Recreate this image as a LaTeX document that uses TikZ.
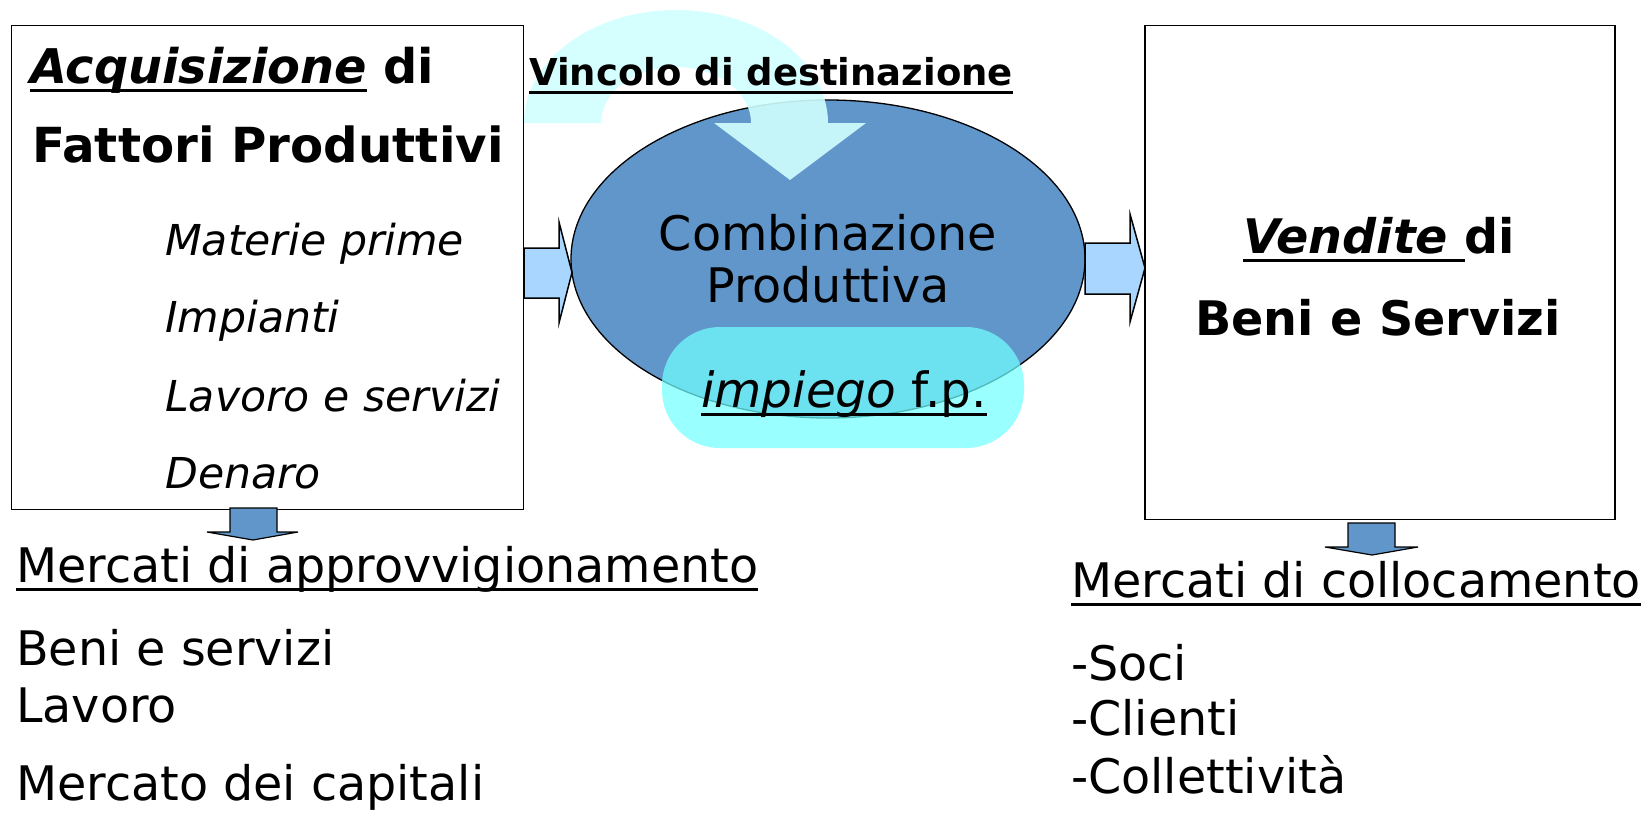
\documentclass[tikz,border=0pt]{standalone}
\usepackage{fontspec}
\setmainfont{DejaVu Sans}
\usetikzlibrary{shapes.geometric}
\newsavebox\ulbox
\newcommand\myul[1]{\sbox\ulbox{#1}\rlap{\vrule width\wd\ulbox height -5.5pt depth 8.5pt}\usebox\ulbox}
\definecolor{ellblue}{RGB}{96,150,201}
\definecolor{sideblue}{RGB}{168,214,255}
\definecolor{arccyan}{RGB}{208,255,255}
\definecolor{capcyan}{RGB}{113,255,255}
\tikzset{
  txt/.style={inner sep=0pt, anchor=base west},
  big/.style={font=\fontsize{47.6}{56}\selectfont},
  mid/.style={font=\fontsize{42.6}{52}\selectfont\itshape},
  boxline/.style={draw=black, line width=1.5pt},
  blockarrow/.style={draw=black, line width=1.5pt, line join=miter}
}
\begin{document}
\begin{tikzpicture}[x=1pt,y=-1pt]
\useasboundingbox (0,0) rectangle (1643,812);
% boxes
\node[boxline, fill=white, anchor=north west, minimum width=512pt, minimum height=484pt, inner sep=0pt] (lbox) at (10.5,24.5) {};
\node[boxline, fill=white, anchor=north west, minimum width=470pt, minimum height=494pt, inner sep=0pt] (rbox) at (1144,24.5) {};
% ellipse
\node[ellipse, draw=black, line width=1.3pt, fill=ellblue, minimum width=514pt, minimum height=318pt, inner sep=0pt] (comb) at (828,259) {};
% curved arrow
\fill[arccyan, opacity=0.9]
  plot[domain=180:0, samples=60] ({676+152*cos(\x)},{123-113*sin(\x)})
  -- (866,123) -- (790,180) -- (714,123) -- (751,123)
  -- plot[domain=0:180, samples=60] ({676+75*cos(\x)},{123-56*sin(\x)}) -- cycle;
% side arrows
\draw[blockarrow, fill=sideblue] (524,248) -- (559,248) -- (559,222) -- (572,272.5) -- (559,323) -- (559,298) -- (524,298) -- cycle;
\draw[blockarrow, fill=sideblue] (1085,243) -- (1130,243) -- (1130,214) -- (1145,268) -- (1130,322) -- (1130,294) -- (1085,294) -- cycle;
% down arrows
\draw[blockarrow, line width=1.2pt, fill=ellblue] (230,508) -- (277,508) -- (277,532) -- (298,532) -- (253,540) -- (207,532) -- (230,532) -- cycle;
\draw[blockarrow, line width=1.2pt, fill=ellblue] (1348,523) -- (1395,523) -- (1395,547) -- (1418,547) -- (1372,555) -- (1325,547) -- (1348,547) -- cycle;
% capsule
\node[rounded corners=58pt, fill=capcyan, fill opacity=0.72, minimum width=362pt, minimum height=121pt, inner sep=0pt] (capsule) at (843,387.5) {};
% texts
\node[txt, font=\fontsize{47.8}{56}\selectfont] (acq) at (30,83) {\myul{\textbf{\textit{Acquisizione}}}\textbf{ di}};
\node[txt, font=\fontsize{48.3}{56}\selectfont] (fat) at (32,162) {\textbf{Fattori Produttivi}};
\node[txt, mid] (mat) at (165,255) {Materie prime};
\node[txt, mid] (imp) at (165,332) {Impianti};
\node[txt, mid] (lav) at (165,411) {Lavoro e servizi};
\node[txt, mid] (den) at (165,488) {Denaro};
\node[txt, font=\fontsize{37}{44}\selectfont\bfseries] (vinc) at (529,85) {\myul{Vincolo di destinazione}};
\node[txt, big, anchor=base] (comb1) at (828,250) {Combinazione};
\node[txt, big, anchor=base] (comb2) at (828,302) {Produttiva};
\node[txt, font=\fontsize{48.5}{56}\selectfont, anchor=base] (impt) at (844,407) {\myul{\textit{impiego} f.p.}};
\node[txt, big, anchor=base] (vend) at (1379,253) {\textbf{\myul{\textit{Vendite} }di}};
\node[txt, big, anchor=base] (beni) at (1378,335) {\textbf{Beni e Servizi}};
\node[txt, big] (mercl) at (16,582) {\myul{Mercati di approvvigionamento}};
\node[txt, big] (benil) at (16,665) {Beni e servizi};
\node[txt, big] (lavl) at (16,722) {Lavoro};
\node[txt, big] (capl) at (16,800) {Mercato dei capitali};
\node[txt, big] (mercr) at (1071,597) {\myul{Mercati di collocamento}};
\node[txt, big] (soci) at (1071,680) {-Soci};
\node[txt, big] (clie) at (1071,735) {-Clienti};
\node[txt, big] (coll) at (1071,793) {-Collettività};
\end{tikzpicture}
\end{document}
